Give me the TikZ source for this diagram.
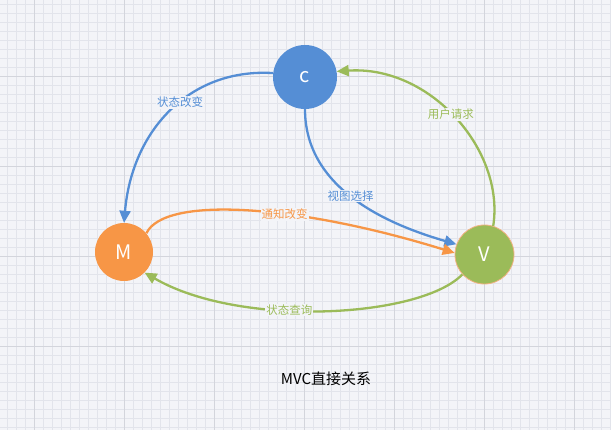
\documentclass[tikz,border=0pt]{standalone}
\usepackage{fontspec}
\setmainfont{Noto Sans CJK SC}
\usetikzlibrary{arrows.meta}

\definecolor{canvas}{HTML}{F3F4F8}
\definecolor{gridminor}{HTML}{E2E4EB}
\definecolor{gridmajor}{HTML}{D3D5DC}
\definecolor{cblue}{HTML}{558ED5}
\definecolor{morange}{HTML}{F79646}
\definecolor{vgreen}{HTML}{9BBB59}
\definecolor{vring}{HTML}{F4B183}

\begin{document}
\begin{tikzpicture}[
    x=1pt, y=-1pt,
    part/.style={circle, inner sep=0pt, text=white, font=\fontsize{20}{24}\selectfont},
    lbl/.style={fill=canvas, inner sep=1pt, font=\fontsize{11.5}{13}\selectfont},
    link/.style={-{Triangle[length=12pt, width=11pt]}, line width=2.3pt},
    minorline/.style={gridminor, line width=0.8pt},
    majorline/.style={gridmajor, line width=1pt}
]

% Canvas and grid
\useasboundingbox (0,0) rectangle (611,430);
\fill[canvas] (0,0) rectangle (611,430);
\foreach \i in {0,...,67} \draw[minorline] ({7.3+9*\i},0) -- ({7.3+9*\i},430);
\foreach \j in {0,...,47} \draw[minorline] (0,{4.7+9*\j}) -- (611,{4.7+9*\j});
\foreach \i in {0,...,6} \draw[majorline] ({34.3+90*\i},0) -- ({34.3+90*\i},430);
\foreach \j in {0,...,3} \draw[majorline] (0,{76.7+90*\j}) -- (611,{76.7+90*\j});

% Parts
\node[part, fill=cblue, minimum size=64pt] (ctrl) at (305,77) {c};
\node[part, fill=morange, minimum size=58pt] (model) at (124,252) {M};
\node[part, fill=vgreen, draw=vring, line width=0.8pt, minimum size=59pt] (view) at (484.5,254.5) {V};

% Arrows
\draw[link, cblue] (ctrl.173) .. controls (190,68) and (132,130) .. (model.north)
    node[lbl, text=cblue, pos=0.44] (chg) {状态改变};
\draw[link, cblue] (ctrl.south) .. controls (305,190) and (390,225) .. (view.160)
    node[lbl, text=cblue, pos=0.47] (sel) {视图选择};
\draw[link, morange] (model.40) .. controls (165,195) and (300,205) .. (view.177)
    node[lbl, text=morange, pos=0.6] (notify) {通知改变};
\draw[link, vgreen] (view.73) .. controls (505,150) and (430,65) .. (ctrl.10)
    node[lbl, text=vgreen, pos=0.52] (req) {用户请求};
\draw[link, vgreen] (view.222) .. controls (420,318) and (240,328) .. (model.315)
    node[lbl, text=vgreen, pos=0.59] (query) {状态查询};

% Caption
\node[font=\fontsize{15}{18}\selectfont] (title) at (326,379) {MVC直接关系};

\end{tikzpicture}
\end{document}
